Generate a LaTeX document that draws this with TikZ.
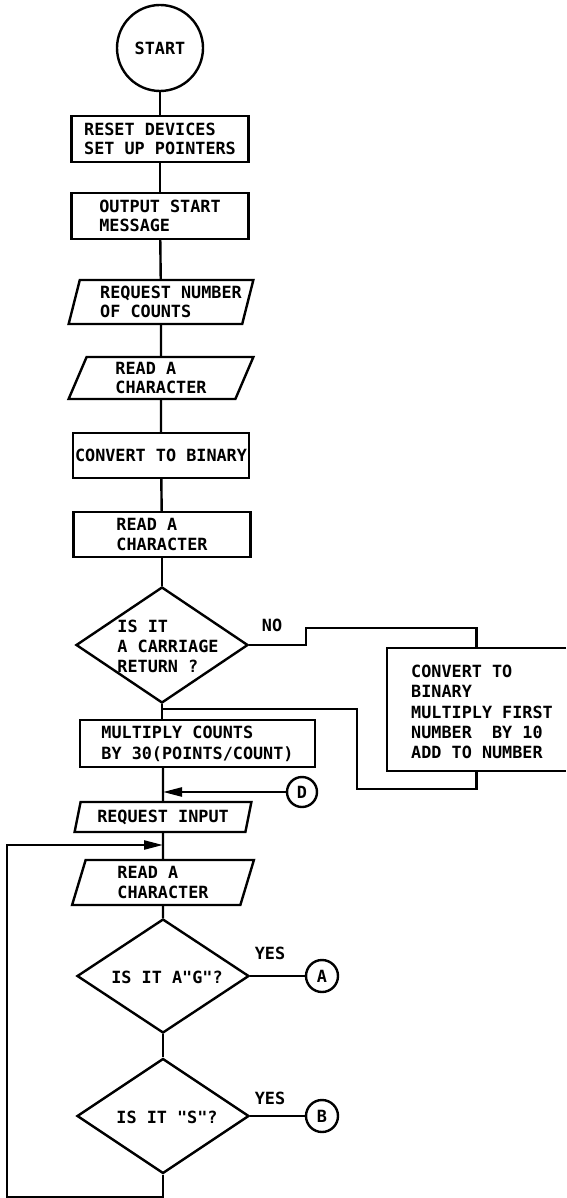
\documentclass[tikz,border=0pt]{standalone}
\usepackage{fontspec}
\setmonofont{DejaVu Sans Mono}
\usetikzlibrary{shapes.geometric,arrows.meta}
\begin{document}
\begin{tikzpicture}[x=1pt,y=-1pt,
  every node/.style={font=\ttfamily\bfseries\fontsize{16.8}{19.5}\selectfont, inner sep=0pt, align=left},
  line/.style={line width=2.4pt, line join=miter},
  proc/.style={draw, line width=2.4pt, rectangle},
  io/.style={draw, line width=2.4pt, trapezium, trapezium left angle=#1, trapezium right angle=180-#1, trapezium stretches=true},
  dec/.style={draw, line width=2.4pt, diamond},
  conn/.style={draw, line width=2.4pt, circle},
  arr/.style={-{Triangle[length=19pt,width=9pt]}}
]
\useasboundingbox (0,0) rectangle (566,1198);

% main column
\node[conn, minimum size=86pt] (start) at (160,48) {START};
\node[proc, minimum width=177pt, minimum height=46pt] (b1) at (160,139) {RESET DEVICES\\SET UP POINTERS};
\node[proc, minimum width=177pt, minimum height=46pt] (b2) at (160,216) {OUTPUT START\\MESSAGE};
\node[io=71, minimum width=185pt, minimum height=44pt] (p1) at (161,302) {\hspace*{20pt}REQUEST NUMBER\\\hspace*{20pt}OF COUNTS};
\node[io=71, minimum width=185pt, minimum height=42pt] (p2) at (161,378) {READ A\\CHARACTER};
\node[proc, minimum width=176pt, minimum height=45pt] (b3) at (161,455.5) {CONVERT TO BINARY};
\node[proc, minimum width=177pt, minimum height=45pt] (b4) at (162,534.5) {READ A\\CHARACTER};
\node[dec, minimum width=172pt, minimum height=116pt] (d1) at (162,645) {};
\node[font=\ttfamily\bfseries\fontsize{16.8}{20}\selectfont] (d1t) at (168,646) {IS IT\\A CARRIAGE\\RETURN ?};
\node (no) at (272,625) {NO};

% side box (right edge cut off by the page)
\node[minimum width=179pt, minimum height=123pt] (cbox) at (476.5,709.5) {};
\draw[line] (cbox.north east) -- (cbox.north west) -- (cbox.south west) -- (cbox.south east);
\node[anchor=west, font=\ttfamily\bfseries\fontsize{16.8}{20}\selectfont] (cboxt) at (411,712) {CONVERT TO\\BINARY\\[1pt]MULTIPLY FIRST\\NUMBER~~BY 10\\ADD TO NUMBER};

\node[proc, minimum width=235pt, minimum height=47pt, font=\ttfamily\bfseries\fontsize{16.8}{21}\selectfont] (mult) at (197.5,743.5) {MULTIPLY COUNTS\\BY 30(POINTS/COUNT)};
\node[conn, minimum size=30pt] (D) at (302,792) {D};
\node[io=72, minimum width=177pt, minimum height=30pt] (ri) at (163,817) {REQUEST INPUT};
\node[io=76, minimum width=182pt, minimum height=45pt] (p4) at (163,882.5) {READ A\\CHARACTER};
\node[dec, minimum width=172pt, minimum height=114pt] (d2) at (163,976) {};
\node (d2t) at (167,977) {IS IT A"G"?};
\node (yes1) at (270,953) {YES};
\node[conn, minimum size=32pt] (A) at (322,976) {A};
\node[dec, minimum width=172pt, minimum height=115pt] (d3) at (163,1116) {};
\node (d3t) at (167,1117) {IS IT "S"?};
\node (yes2) at (270,1098) {YES};
\node[conn, minimum size=32pt] (B) at (322,1116) {B};

\coordinate (j1) at (163,709);
\coordinate (j2) at (163,845);
\coordinate (j3) at (163,792);

% connectors
\draw[line] (start) -- (b1);
\draw[line] (b1) -- (b2);
\draw[line] (b2) -- (p1);
\draw[line] (p1) -- (p2);
\draw[line] (p2) -- (b3);
\draw[line] (b3) -- (b4);
\draw[line] (b4) -- (d1.north);
\draw[line] (d1.south) -- (d1.south |- mult.north);
\draw[line] (d1.east) -- ++(57,0) -- ++(0,-17) -| (cbox.north);
\draw[line] (cbox.south) -- ++(0,18) -| (357,709) -- (j1);
\draw[line] (j1 |- mult.south) -- (ri.north);
\draw[line,arr] (D) -- (j3);
\draw[line] (ri) -- (p4);
\draw[line] (p4) -- (d2.north);
\draw[line] (d2.east) -- (A);
\draw[line] (d2.south) -- (d3.north);
\draw[line] (d3.east) -- (B);
\draw[line,arr] (d3.south) -- ++(0,22) -| (7,845) -- (j2);
\end{tikzpicture}
\end{document}
